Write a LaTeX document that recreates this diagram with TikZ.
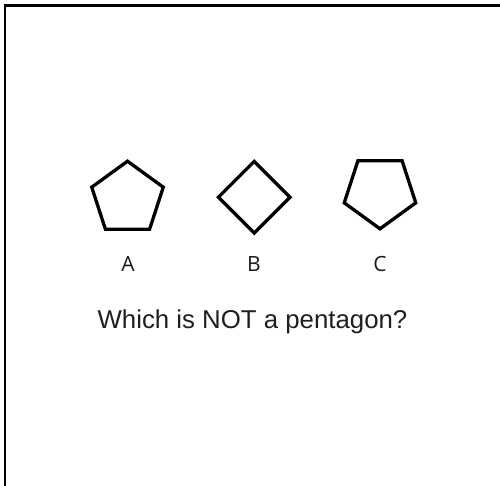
\documentclass[tikz,border=0pt]{standalone}
\usepackage{fontspec}
\usetikzlibrary{calc}
\setmainfont{Liberation Sans}
\newfontfamily\labelfont{Open Sans}
\tikzset{
  shapeline/.style={draw=black, line width=3.3pt, line join=miter},
  frameline/.style={draw=black, line width=2.2pt},
  letter/.style={font=\labelfont\fontsize{21}{21}\selectfont, anchor=base, inner sep=0pt, text=black!90},
  question/.style={font=\fontsize{25.8}{26}\selectfont, anchor=base, inner sep=0pt, text=black!88}
}
\begin{document}
\begin{tikzpicture}[x=1pt,y=-1pt]
\useasboundingbox (0,0) rectangle (500,485);
% frame (only left and top edges visible)
\draw[frameline] (5,490) -- (5,5.5) -- (505,5.5);
% shape A: regular pentagon, point up
\coordinate (ca) at (127.5,198.8);
\draw[shapeline] ($(ca)+(-90:37.6)$) \foreach \a in {-18,54,126,198} { -- ($(ca)+(\a:37.6)$) } -- cycle;
% shape B: square rotated 45 degrees
\coordinate (cb) at (254.2,197.2);
\draw[shapeline] ($(cb)+(0,-35.8)$) -- ($(cb)+(35.8,0)$) -- ($(cb)+(0,35.8)$) -- ($(cb)+(-35.8,0)$) -- cycle;
% shape C: regular pentagon, point down
\coordinate (cc) at (380,191.2);
\draw[shapeline] ($(cc)+(90:37.6)$) \foreach \a in {162,234,306,378} { -- ($(cc)+(\a:37.6)$) } -- cycle;
% labels
\node[letter] (la) at (128,271) {A};
\node[letter] (lb) at (254,271) {B};
\node[letter] (lc) at (380,271) {C};
% question
\node[question] (q) at (252.5,328.5) {Which is NOT a pentagon?};
\end{tikzpicture}
\end{document}
